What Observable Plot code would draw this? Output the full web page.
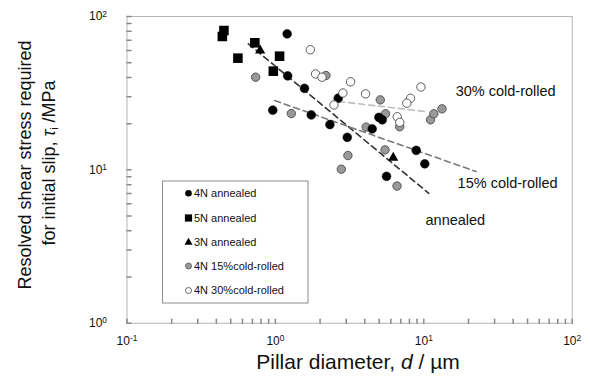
<!DOCTYPE html>
<html><head><meta charset="utf-8">
<script src="https://cdn.jsdelivr.net/npm/d3@7"></script>
<script src="https://cdn.jsdelivr.net/npm/@observablehq/plot@0.6"></script>
<style>
body{margin:0;background:#fff;font-family:"Liberation Sans",Arial,sans-serif;}
#chart{position:relative;width:590px;height:381px;}
</style></head><body><div id="chart"></div>
<script>
// ---- data (pillar diameter d in µm, resolved shear stress tau in MPa) ----
const an4N_d   = [1.20, 1.21, 1.57, 0.96, 1.745, 2.33, 3.05, 2.65, 4.98, 5.25, 4.49, 8.89, 10.15, 5.61];
const an4N_tau = [77.1, 41.0, 34.0, 24.5, 22.8, 19.75, 16.3, 29.3, 22.0, 21.2, 18.5, 13.4, 10.95, 9.08];
const an5N_d   = [0.45, 0.439, 0.727, 0.559, 1.067, 0.968];
const an5N_tau = [81.0, 74.1, 67.4, 53.5, 55.1, 44.0];
const an3N_d   = [0.789, 6.22];
const an3N_tau = [60.0, 12.0];
const cr15_d   = [0.736, 1.28, 2.19, 3.08, 2.78, 5.09, 5.52, 4.09, 5.48, 6.60, 6.88, 11.1, 11.68, 13.26];
const cr15_tau = [40.2, 23.3, 41.2, 12.4, 10.1, 28.6, 23.2, 19.0, 13.5, 7.84, 19.1, 21.2, 23.2, 25.0];
const cr30_d   = [1.72, 1.865, 2.06, 3.21, 2.85, 2.48, 4.05, 9.57, 8.14, 7.68, 6.62, 6.89];
const cr30_tau = [60.7, 42.2, 40.2, 37.5, 31.7, 26.5, 31.3, 34.7, 29.3, 27.2, 22.2, 20.4];

// fitted trend lines (endpoints)
const fitAn_d = [0.657, 10.8],  fitAn_tau = [66.4, 7.03];
const fit15_d = [0.99, 22.5],   fit15_tau = [28.3, 9.75];
const fit30_d = [2.67, 10.3],   fit30_tau = [27.9, 24.0];

// annotation labels
const noteText = ["30% cold-rolled", "15% cold-rolled", "annealed"];
const note_d   = [16.4, 16.9, 10.27];
const note_tau = [32.4, 8.14, 4.67];

// legend entries
const legendNames = ["4N annealed", "5N annealed", "3N annealed", "4N 15%cold-rolled", "4N 30%cold-rolled"];

// axis ticks
const xMajor = [0.1, 1, 10, 100];
const yMajor = [1, 10, 100];
const xMinor = d3.range(-1, 2).flatMap(e => d3.range(1, 10).map(m => m * 10 ** e)).concat([100]);
const yMinor = d3.range(0, 2).flatMap(e => d3.range(1, 10).map(m => m * 10 ** e)).concat([100]);

const zip = (a, b) => a.map((v, i) => ({d: v, tau: b[i]}));

const tickShape = {draw(ctx, l) { ctx.moveTo(0, 0); ctx.lineTo(0, -l); }};
const expFmt = v => "10^" + Math.round(Math.log10(v));

const plot = Plot.plot({
  width: 590, height: 381,
  marginLeft: 126.5, marginRight: 18.3, marginTop: 16, marginBottom: 58.3,
  style: {fontFamily: '"Liberation Sans", Arial, sans-serif', background: "white", overflow: "visible"},
  x: {type: "log", domain: [0.1, 100]},
  y: {type: "log", domain: [1, 100]},
  marks: [
    Plot.frame({stroke: "#b5b5b5"}),
    Plot.vector(xMinor, {x: d => d, frameAnchor: "bottom", length: 4, anchor: "start", rotate: 0, shape: tickShape, stroke: "#8a8a8a"}),
    Plot.vector(yMinor, {y: d => d, frameAnchor: "left", length: 4, anchor: "start", rotate: 90, shape: tickShape, stroke: "#8a8a8a"}),
    Plot.axisX({ticks: xMajor, tickSize: 0, tickPadding: 13, tickFormat: expFmt, fontSize: 12, label: null, color: "#111"}),
    Plot.axisY({ticks: yMajor, tickSize: 0, tickPadding: 20, tickFormat: expFmt, fontSize: 12, label: null, color: "#111"}),
    Plot.line(zip(fitAn_d, fitAn_tau), {x: "d", y: "tau", stroke: "#333", strokeWidth: 1.6, strokeDasharray: "6,4"}),
    Plot.line(zip(fit15_d, fit15_tau), {x: "d", y: "tau", stroke: "#7a7a7a", strokeWidth: 1.6, strokeDasharray: "6,4"}),
    Plot.line(zip(fit30_d, fit30_tau), {x: "d", y: "tau", stroke: "#bdbdbd", strokeWidth: 1.6, strokeDasharray: "6,4"}),
    Plot.dot(zip(cr15_d, cr15_tau), {x: "d", y: "tau", r: 4.2, fill: "#999", stroke: "#4a4a4a", strokeWidth: 0.9}),
    Plot.dot(zip(an4N_d, an4N_tau), {x: "d", y: "tau", r: 4.4, fill: "#000", stroke: "#000", strokeWidth: 0.5}),
    Plot.dot(zip(an5N_d, an5N_tau), {x: "d", y: "tau", symbol: "square", r: 5.4, fill: "#000"}),
    Plot.dot(zip(an3N_d, an3N_tau), {x: "d", y: "tau", symbol: "triangle", r: 3.8, fill: "#000"}),
    Plot.dot(zip(cr30_d, cr30_tau), {x: "d", y: "tau", r: 4.2, fill: "#fff", stroke: "#4a4a4a", strokeWidth: 0.9}),
    Plot.text(noteText.map((t, i) => ({t, d: note_d[i], tau: note_tau[i]})), {x: "d", y: "tau", text: "t", textAnchor: "start", fontSize: 14.5, fill: "#111"})
  ]
});

const svg = d3.select(plot);
// superscript tick labels
svg.selectAll("g[aria-label$='tick label'] text").each(function() {
  const s = this.textContent;
  if (!s.includes("^")) return;
  const [b, e] = s.split("^");
  const el = d3.select(this);
  el.text("");
  el.append("tspan").text(b);
  el.append("tspan").attr("dy", "-0.45em").attr("font-size", "0.7em").text(e);
});

// axis titles
svg.append("text").attr("x", 358).attr("y", 369).attr("text-anchor", "middle")
  .attr("font-size", 21).attr("fill", "#111")
  .call(t => { t.append("tspan").text("Pillar diameter, "); t.append("tspan").attr("font-style", "italic").text("d"); t.append("tspan").text(" / µm"); });
svg.append("text").attr("transform", "translate(31,165) rotate(-90)").attr("text-anchor", "middle")
  .attr("font-size", 18).attr("fill", "#111").text("Resolved shear stress required");
svg.append("text").attr("transform", "translate(55,163) rotate(-90)").attr("text-anchor", "middle")
  .attr("font-size", 18).attr("fill", "#111")
  .call(t => {
    t.append("tspan").text("for initial slip, ");
    t.append("tspan").attr("font-style", "italic").text("τ");
    t.append("tspan").attr("font-size", "0.6em").attr("dy", "0.3em").text("i");
    t.append("tspan").attr("dy", "-0.18em").text(" /MPa");
  });

// legend box
const lg = svg.append("g").attr("font-size", 11).attr("fill", "#111").attr("text-anchor", "start");
lg.append("rect").attr("x", 162.5).attr("y", 181).attr("width", 145.5).attr("height", 122)
  .attr("fill", "#fff").attr("stroke", "#8c8c8c").attr("stroke-width", 1);
const rowY = [193.3, 218, 241.7, 266, 290.5];
const mx = 188.5;
legendNames.forEach((name, i) => {
  const y = rowY[i];
  if (i === 0) lg.append("circle").attr("cx", mx).attr("cy", y).attr("r", 3.3).attr("fill", "#000");
  if (i === 1) lg.append("rect").attr("x", mx - 3.6).attr("y", y - 3.6).attr("width", 7.2).attr("height", 7.2).attr("fill", "#000");
  if (i === 2) lg.append("path").attr("d", `M${mx},${y - 4}L${mx + 4},${y + 3}L${mx - 4},${y + 3}Z`).attr("fill", "#000");
  if (i === 3) lg.append("circle").attr("cx", mx).attr("cy", y).attr("r", 3).attr("fill", "#999").attr("stroke", "#555").attr("stroke-width", 0.8);
  if (i === 4) lg.append("circle").attr("cx", mx).attr("cy", y).attr("r", 3).attr("fill", "#fff").attr("stroke", "#444").attr("stroke-width", 0.8);
  lg.append("text").attr("x", 194).attr("y", y).attr("dy", "0.35em").text(name);
});

document.getElementById("chart").appendChild(plot);
</script>
</body></html>
